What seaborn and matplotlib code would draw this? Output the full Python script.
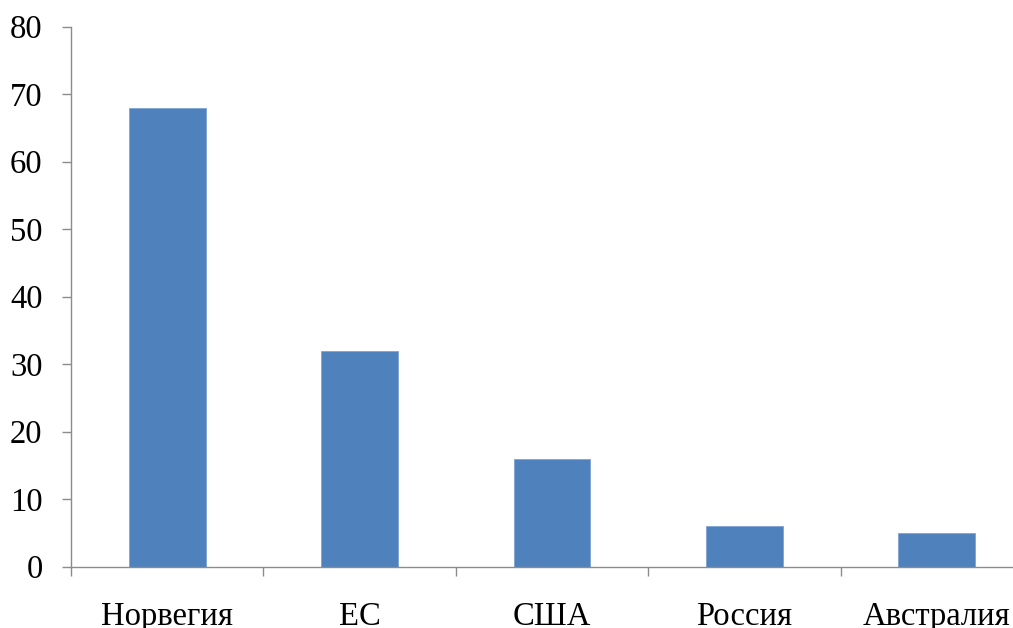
import matplotlib
matplotlib.use("Agg")
import matplotlib.pyplot as plt
import seaborn as sns
import pandas as pd

categories = ["Норвегия", "ЕС", "США", "Россия", "Австралия"]
values = [68, 32, 16, 6, 5]
y_ticks = [0, 10, 20, 30, 40, 50, 60, 70, 80]

sns.set_style("white")
plt.rcParams["font.family"] = ["Liberation Serif", "DejaVu Serif"]

df = pd.DataFrame({"country": categories, "value": values})

fig = plt.figure(figsize=(10.13, 6.28), dpi=100)
ax = fig.add_axes([71 / 1013, (628 - 566.7) / 628, 962 / 1013, 540 / 628])

sns.barplot(data=df, x="country", y="value", color="#4F81BD", width=0.4,
            saturation=1, edgecolor="#7EA3D3", linewidth=0.6, ax=ax)

ax.set_xlim(-0.5, 4.5)
ax.set_ylim(0, 80)
ax.set_yticks(y_ticks)
ax.set_yticklabels([str(t) for t in y_ticks])
ax.set_xlabel("")
ax.set_ylabel("")

for s in ["top", "right"]:
    ax.spines[s].set_visible(False)
for s in ["left", "bottom"]:
    ax.spines[s].set_color("#8C8C8C")
    ax.spines[s].set_linewidth(1.0)

ax.tick_params(axis="y", direction="out", length=6.5, width=1, color="#8C8C8C",
               pad=14, labelsize=23.5, labelcolor="black", left=True)
ax.set_xticks([-0.5, 0.5, 1.5, 2.5, 3.5, 4.5], minor=True)
ax.tick_params(axis="x", which="minor", direction="out", length=6.5, width=1, color="#8C8C8C", bottom=True)
ax.tick_params(axis="x", which="major", length=0, pad=25, labelsize=23.5, labelcolor="black")

fig.savefig("out.png", dpi=100)
